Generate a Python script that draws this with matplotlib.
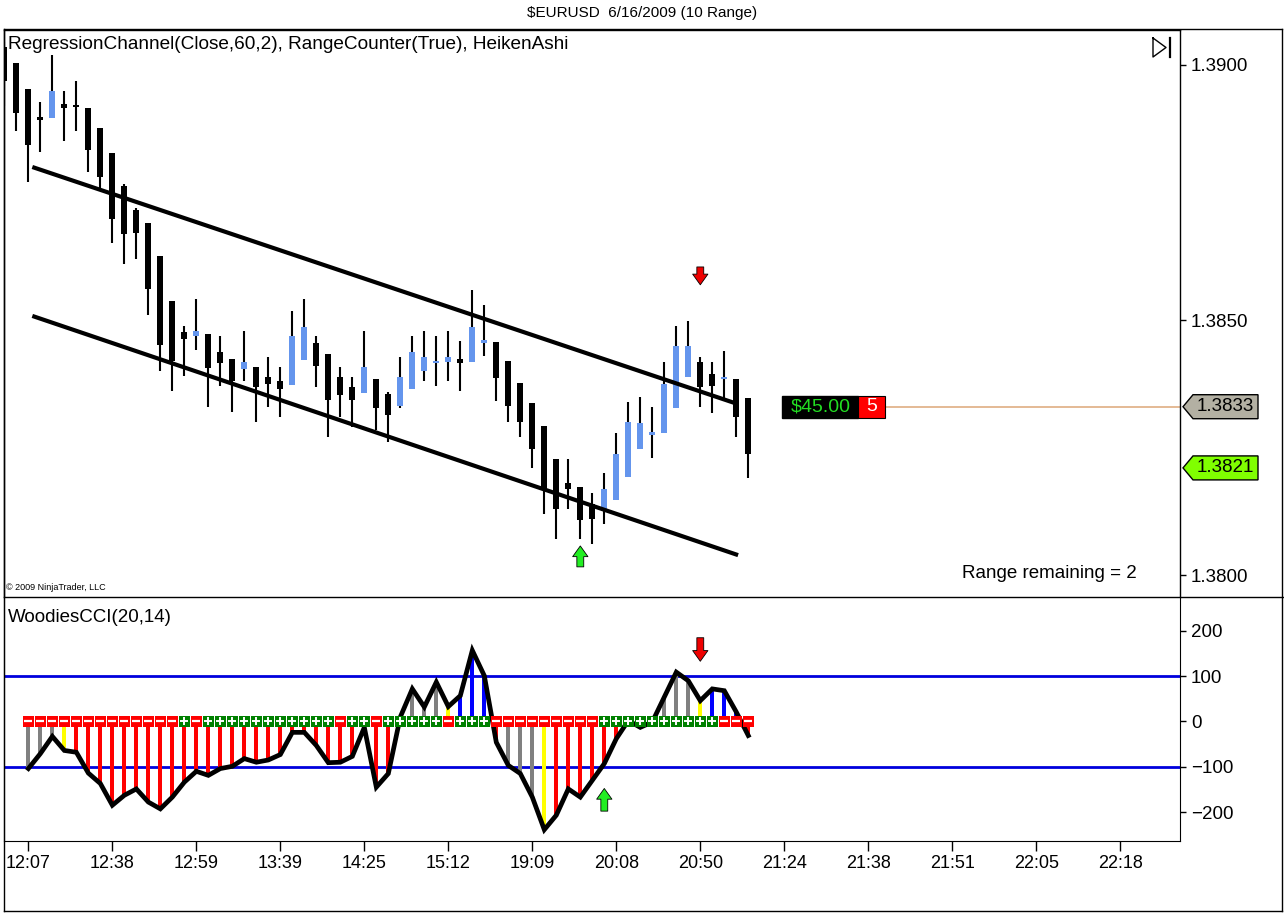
import matplotlib
matplotlib.use('Agg')
import numpy as np
import matplotlib.pyplot as plt
import matplotlib.transforms as mtransforms
from matplotlib.lines import Line2D
from matplotlib.patches import Polygon, Rectangle

plt.rcParams['font.family'] = ['Liberation Sans', 'DejaVu Sans']

# ---- data ----
opens = [1.39035, 1.39004, 1.38953, 1.38898, 1.38896, 1.38924, 1.38919, 1.38916, 1.38876, 1.38827,
         1.38763, 1.38716, 1.38690, 1.38625, 1.38537, 1.38476, 1.38469, 1.38473, 1.38437, 1.38424,
         1.38404, 1.38408, 1.38388, 1.38380, 1.38373, 1.38422, 1.38455, 1.38433, 1.38388, 1.38369,
         1.38357, 1.38384, 1.38355, 1.38331, 1.38365, 1.38400, 1.38416, 1.38418, 1.38424, 1.38418,
         1.38455, 1.38457, 1.38420, 1.38376, 1.38337, 1.38292, 1.38227, 1.38180, 1.38173, 1.38139,
         1.38125, 1.38147, 1.38192, 1.38247, 1.38275, 1.38278, 1.38327, 1.38388, 1.38418, 1.38394,
         1.38384, 1.38384, 1.38347]
closes = [1.38969, 1.38906, 1.38843, 1.38892, 1.38949, 1.38916, 1.38917, 1.38833, 1.38780, 1.38698,
          1.38669, 1.38671, 1.38561, 1.38451, 1.38420, 1.38463, 1.38478, 1.38406, 1.38416, 1.38380,
          1.38418, 1.38369, 1.38375, 1.38365, 1.38469, 1.38486, 1.38410, 1.38343, 1.38353, 1.38343,
          1.38408, 1.38327, 1.38314, 1.38388, 1.38437, 1.38427, 1.38420, 1.38427, 1.38416, 1.38486,
          1.38461, 1.38386, 1.38331, 1.38300, 1.38247, 1.38167, 1.38129, 1.38169, 1.38108, 1.38110,
          1.38169, 1.38237, 1.38300, 1.38298, 1.38280, 1.38375, 1.38449, 1.38449, 1.38369, 1.38371,
          1.38388, 1.38310, 1.38237]
highs = [1.39045, 1.39004, 1.38953, 1.38927, 1.39020, 1.38949, 1.38969, 1.38916, 1.38876, 1.38827,
         1.38767, 1.38720, 1.38690, 1.38625, 1.38537, 1.38488, 1.38541, 1.38473, 1.38469, 1.38424,
         1.38478, 1.38408, 1.38427, 1.38408, 1.38518, 1.38541, 1.38469, 1.38433, 1.38408, 1.38388,
         1.38478, 1.38384, 1.38359, 1.38427, 1.38469, 1.38478, 1.38469, 1.38478, 1.38459, 1.38559,
         1.38529, 1.38457, 1.38420, 1.38376, 1.38337, 1.38292, 1.38227, 1.38227, 1.38173, 1.38161,
         1.38200, 1.38278, 1.38339, 1.38349, 1.38329, 1.38418, 1.38488, 1.38498, 1.38427, 1.38418,
         1.38439, 1.38384, 1.38347]
lows = [1.38920, 1.38871, 1.38771, 1.38829, 1.38896, 1.38851, 1.38871, 1.38790, 1.38759, 1.38651,
        1.38610, 1.38620, 1.38510, 1.38400, 1.38361, 1.38390, 1.38441, 1.38329, 1.38371, 1.38320,
        1.38380, 1.38300, 1.38329, 1.38310, 1.38373, 1.38422, 1.38369, 1.38271, 1.38310, 1.38290,
        1.38357, 1.38284, 1.38261, 1.38327, 1.38365, 1.38380, 1.38371, 1.38380, 1.38361, 1.38418,
        1.38429, 1.38341, 1.38300, 1.38271, 1.38210, 1.38120, 1.38071, 1.38129, 1.38071, 1.38061,
        1.38100, 1.38147, 1.38192, 1.38247, 1.38229, 1.38278, 1.38327, 1.38388, 1.38329, 1.38318,
        1.38341, 1.38271, 1.38190]

time_labels = ['12:07', '12:38', '12:59', '13:39', '14:25', '15:12', '19:09',
               '20:08', '20:50', '21:24', '21:38', '21:51', '22:05', '22:18']
tick_bars = [2, 9, 16, 23, 30, 37, 44, 51, 58, 65, 72, 79, 86, 93]

# regression channel end points (bar index, price)
reg_x = [2.33, 61.15]
reg_upper = [1.38800, 1.38335]
reg_lower = [1.38508, 1.38039]

last_price = 1.3833
ask_price = 1.3821
pnl_text = '$45.00'
qty_text = '5'
range_remaining = 2

# Woodies CCI, starts at bar 2
cci_first = 2
cci = [-104, -71, -33, -64, -68, -114, -137, -185, -163, -149,
       -178, -193, -167, -134, -110, -119, -104, -99, -82, -90,
       -85, -73, -24, -24, -53, -91, -90, -77, -13, -145,
       -115, 10, 72, 32, 87, 33, 57, 157, 101, -46,
       -97, -115, -167, -239, -207, -149, -167, -130, -93, -38,
       2, -13, -1, 54, 109, 90, 46, 72, 68, 21, -31]
hist_col = list('gggy' + 'r' * 27 + 'gggg' + 'ybbbrgggy' + 'r' * 9 + 'gggybbbr')
zero_mark = list('r' * 13 + 'g' + 'r' + 'g' * 11 + 'rggr' + 'ggggg' + 'rggg' + 'r' * 9 + 'g' * 10 + 'rrr')

long_bar, short_bar = 48, 58          # signal arrows (price panel)
cci_long_bar, cci_short_bar = 50, 58  # signal arrows (cci panel)

W, H = 1284, 913
fig = plt.figure(figsize=(W / 100, H / 100), dpi=100)
fig.patch.set_facecolor('white')

L, R = 4, 1180
ax = fig.add_axes([L / W, 1 - 597 / H, (R - L) / W, (597 - 30) / H])
ax2 = fig.add_axes([L / W, 1 - 841 / H, (R - L) / W, (841 - 597) / H], sharex=ax)

xs = np.arange(len(opens))
o = np.array(opens); c = np.array(closes)
hi = np.array(highs); lo = np.array(lows)
up = c >= o
cols = np.where(up, '#6495ED', 'black')

ax.vlines(xs, lo, hi, color='black', lw=1.5, zorder=2)
body = np.maximum(np.abs(c - o), 0.00004)
ax.bar(xs, body, bottom=np.minimum(o, c), width=0.52, color=cols, zorder=3)

ax.plot(reg_x, reg_upper, color='black', lw=3, solid_capstyle='butt', zorder=4)
ax.plot(reg_x, reg_lower, color='black', lw=3, solid_capstyle='butt', zorder=4)

ax.set_xlim(-0.03, 97.98)
ax.set_ylim(1.379569, 1.390686)

arrow_kw = dict(arrowstyle='simple,head_width=1.0,head_length=0.7,tail_width=0.45',
                ec='black', lw=0.6, shrinkA=0, shrinkB=0, mutation_scale=11)
ax.annotate('', xy=(short_bar, 1.38569), xytext=(short_bar, 1.38604),
            arrowprops=dict(fc='#ee0000', **arrow_kw))
ax.annotate('', xy=(long_bar, 1.38057), xytext=(long_bar, 1.38016),
            arrowprops=dict(fc='#22ee22', **arrow_kw))

# price line and position box
ax.hlines(last_price, 73.4, 97.98, color='#e2b48c', lw=1.3, zorder=1)
ax.add_patch(Rectangle((64.8, last_price - 0.000215), 6.35, 0.00043, fc='black', ec='black', zorder=5))
ax.add_patch(Rectangle((71.15, last_price - 0.000215), 2.25, 0.00043, fc='#ff0000', ec='black', lw=0.8, zorder=5))
ax.text(68.0, last_price, pnl_text, color='#22dd22', fontsize=14, ha='center', va='center', zorder=6)
ax.text(72.27, last_price, qty_text, color='white', fontsize=14, ha='center', va='center', zorder=6)

# price tags on the right axis
blend = mtransforms.blended_transform_factory(ax.transAxes, ax.transData)
for val, fc in [(last_price, '#b3b0a3'), (ask_price, '#80ff00')]:
    tr = mtransforms.Affine2D() + mtransforms.ScaledTranslation(1.0, val, blend)
    pts = [(3, 0), (13, 12), (78, 12), (78, -12), (13, -12)]
    ax.add_patch(Polygon(pts, closed=True, fc=fc, ec='black', lw=1, transform=tr, clip_on=False, zorder=6))
    ax.annotate(f'{val:.4f}', xy=(1.0, val), xycoords=blend, xytext=(45, 0),
                textcoords='offset pixels', fontsize=13.5, ha='center', va='center',
                annotation_clip=False, zorder=7)

ax.yaxis.tick_right()
ax.set_yticks([1.3800, 1.3850, 1.3900])
ax.yaxis.set_major_formatter(matplotlib.ticker.FormatStrFormatter('%.4f'))
ax.tick_params(axis='y', direction='out', length=4, width=1, labelsize=13.5, pad=4)
ax.tick_params(axis='x', bottom=False, labelbottom=False)
for s in ['left', 'right', 'top']:
    ax.spines[s].set_linewidth(1)
ax.spines['bottom'].set_visible(False)

ax.text(0.0034, 0.975, 'RegressionChannel(Close,60,2), RangeCounter(True), HeikenAshi',
        transform=ax.transAxes, fontsize=13.7, ha='left', va='center')
ax.text(0.0017, 0.0176, '\u00a9 2009 NinjaTrader, LLC', transform=ax.transAxes,
        fontsize=6.5, ha='left', va='center')
ax.text(0.9634, 0.0406, f'Range remaining = {range_remaining}', transform=ax.transAxes,
        fontsize=13.5, ha='right', va='center')

# "play to end" icon
ix = lambda px: (px - L) / (R - L)
iy = lambda py: (597 - py) / 567
ax.add_line(Line2D([ix(1153), ix(1153), ix(1166), ix(1153)], [iy(38), iy(57), iy(47.5), iy(38)],
                   color='black', lw=1, transform=ax.transAxes))
ax.add_line(Line2D([ix(1170), ix(1170)], [iy(38), iy(57)], color='black', lw=1.6,
                   transform=ax.transAxes))

# ---- Woodies CCI panel ----
cx = np.arange(cci_first, cci_first + len(cci))
cmap = {'g': '#808080', 'y': '#ffff00', 'r': '#ff0000', 'b': '#0000ff'}
ax2.bar(cx, cci, width=0.33, color=[cmap[k] for k in hist_col], zorder=2)
ax2.axhline(100, color='#0000dd', lw=2, zorder=1)
ax2.axhline(-100, color='#0000dd', lw=2, zorder=1)
ax2.plot(cx, cci, color='black', lw=3.4, zorder=4, solid_joinstyle='miter')
mcol = np.array(zero_mark)
ax2.scatter(cx, np.zeros(len(cx)), marker='s', s=68,
            c=np.where(mcol == 'g', '#008000', '#ff0000'), zorder=5, linewidths=0)
ax2.scatter(cx[mcol == 'g'], np.zeros((mcol == 'g').sum()), marker='+', s=30,
            color='white', linewidths=1.4, zorder=6)
ax2.scatter(cx[mcol == 'r'], np.zeros((mcol == 'r').sum()), marker='_', s=30,
            color='white', linewidths=1.6, zorder=6)
ax2.annotate('', xy=(cci_short_bar, 133), xytext=(cci_short_bar, 185),
             arrowprops=dict(fc='#ee0000', **arrow_kw))
ax2.annotate('', xy=(cci_long_bar, -148), xytext=(cci_long_bar, -198),
             arrowprops=dict(fc='#22ee22', **arrow_kw))

ax2.set_ylim(-264, 275)
ax2.yaxis.tick_right()
ax2.set_yticks([-200, -100, 0, 100, 200])
ax2.tick_params(axis='y', direction='out', length=4, width=1, labelsize=13.5, pad=4)
ax2.set_xticks(tick_bars)
ax2.set_xticklabels(time_labels, fontsize=13)
ax2.tick_params(axis='x', direction='out', length=7, width=1, pad=3)
ax2.spines['top'].set_visible(False)
ax2.text(0.0034, 0.914, 'WoodiesCCI(20,14)', transform=ax2.transAxes, fontsize=13.5,
         ha='left', va='center')

# ---- chart frame / separators ----
fx = lambda px: px / W
fy = lambda py: 1 - py / H
for (x0, y0, x1, y1) in [(L, 29, 1282, 29), (L, 597, 1284, 597), (1282, 29, 1282, 911),
                         (L, 911, 1282, 911), (L, 29, L, 911)]:
    fig.add_artist(Line2D([fx(x0), fx(x1)], [fy(y0), fy(y1)], color='black', lw=1))

fig.text(0.5, fy(13), '$EURUSD  6/16/2009 (10 Range)', ha='center', va='center', fontsize=11)

fig.savefig('out.png', dpi=100, facecolor='white')
